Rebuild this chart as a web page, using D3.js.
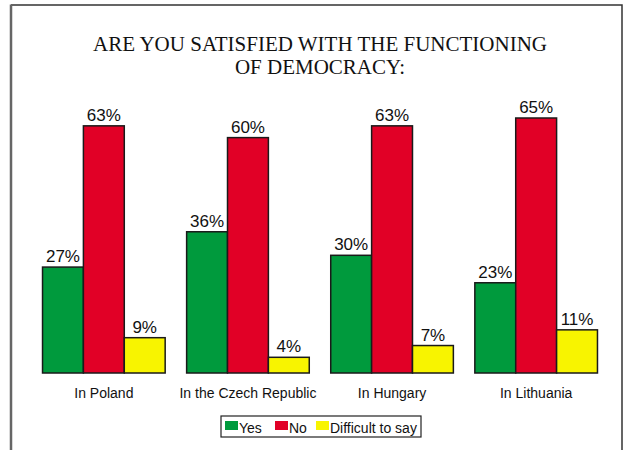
<!DOCTYPE html>
<html>
<head>
<meta charset="utf-8">
<script src="https://cdn.jsdelivr.net/npm/d3@7"></script>
<style>
  html, body { margin: 0; padding: 0; background: #fff; }
  svg { display: block; }
</style>
</head>
<body>
<svg id="chart" width="626" height="450"></svg>
<script>
// Survey answers per country, in percent
const categories = ["In Poland", "In the Czech Republic", "In Hungary", "In Lithuania"];
const seriesNames = ["Yes", "No", "Difficult to say"];
const yesValues = [27, 36, 30, 23];
const noValues = [63, 60, 63, 65];
const difficultValues = [9, 4, 7, 11];
const seriesColors = ["#009a3d", "#e10026", "#f8f400"];
const titleLines = ["ARE YOU SATISFIED WITH THE FUNCTIONING", "OF DEMOCRACY:"];

const seriesValues = [yesValues, noValues, difficultValues];
const rows = categories.map((c, i) => ({
  category: c,
  values: seriesNames.map((s, k) => ({ series: s, k, value: seriesValues[k][i] }))
}));

const svg = d3.select("#chart");

// outer frame (open at the bottom edge of the view)
const frame = svg.append("g").attr("fill", "none");
frame.append("path")
  .attr("d", "M11,5H622V460")
  .attr("stroke", "#333").attr("stroke-width", 1.5);
frame.append("line")
  .attr("x1", 11).attr("y1", 4.5).attr("x2", 11).attr("y2", 460)
  .attr("stroke", "#666").attr("stroke-width", 2.5);

// title
svg.append("g").selectAll("text")
  .data(titleLines).join("text")
  .attr("x", 320)
  .attr("y", (d, i) => 51 + i * 23)
  .attr("text-anchor", "middle")
  .attr("font-family", "'Liberation Serif', 'Times New Roman', serif")
  .attr("font-size", 21)
  .attr("fill", "#111")
  .text(d => d);

// scales
const x0 = d3.scaleBand()
  .domain(categories)
  .range([31, 609])
  .paddingInner(0.149)
  .paddingOuter(0.08);

const x1 = d3.scaleBand()
  .domain(seriesNames)
  .range([0, x0.bandwidth()]);

const y = d3.scaleLinear()
  .domain([0, 65])
  .range([373, 118]);

const groups = svg.append("g").selectAll("g")
  .data(rows).join("g")
  .attr("transform", d => `translate(${x0(d.category)},0)`);

groups.selectAll("rect")
  .data(d => d.values).join("rect")
  .attr("x", d => x1(d.series))
  .attr("y", d => y(d.value))
  .attr("width", x1.bandwidth())
  .attr("height", d => y(0) - y(d.value))
  .attr("fill", d => seriesColors[d.k])
  .attr("stroke", "#1a1a1a")
  .attr("stroke-width", 1.5);

groups.selectAll("text.val")
  .data(d => d.values).join("text")
  .attr("class", "val")
  .attr("x", d => x1(d.series) + x1.bandwidth() / 2)
  .attr("y", d => y(d.value) - 5)
  .attr("text-anchor", "middle")
  .attr("font-family", "'Liberation Sans', Arial, sans-serif")
  .attr("font-size", 17)
  .attr("fill", "#111")
  .text(d => d.value + "%");

// category axis labels
const xAxis = d3.axisBottom(x0).tickSize(0).tickPadding(0);
const axisG = svg.append("g")
  .attr("transform", "translate(0,373)")
  .call(xAxis);
axisG.select(".domain").remove();
axisG.selectAll("text")
  .attr("y", 25)
  .attr("dy", null)
  .attr("font-family", "'Liberation Sans', Arial, sans-serif")
  .attr("font-size", 14)
  .attr("fill", "#111");

// legend
const legend = svg.append("g");
legend.append("rect")
  .attr("x", 221).attr("y", 416)
  .attr("width", 200).attr("height", 21)
  .attr("fill", "#fff")
  .attr("stroke", "#222").attr("stroke-width", 1.2);

const legendX = [225, 275, 316];
const items = legend.selectAll("g.item")
  .data(seriesNames).join("g")
  .attr("class", "item")
  .attr("transform", (d, i) => `translate(${legendX[i]},0)`);
items.append("rect")
  .attr("x", 0).attr("y", 421)
  .attr("width", 13).attr("height", 9)
  .attr("fill", (d, i) => seriesColors[i]);
items.append("text")
  .attr("x", 14).attr("y", 433)
  .attr("font-family", "'Liberation Sans', Arial, sans-serif")
  .attr("font-size", 14)
  .attr("fill", "#111")
  .text(d => d);
</script>
</body>
</html>
